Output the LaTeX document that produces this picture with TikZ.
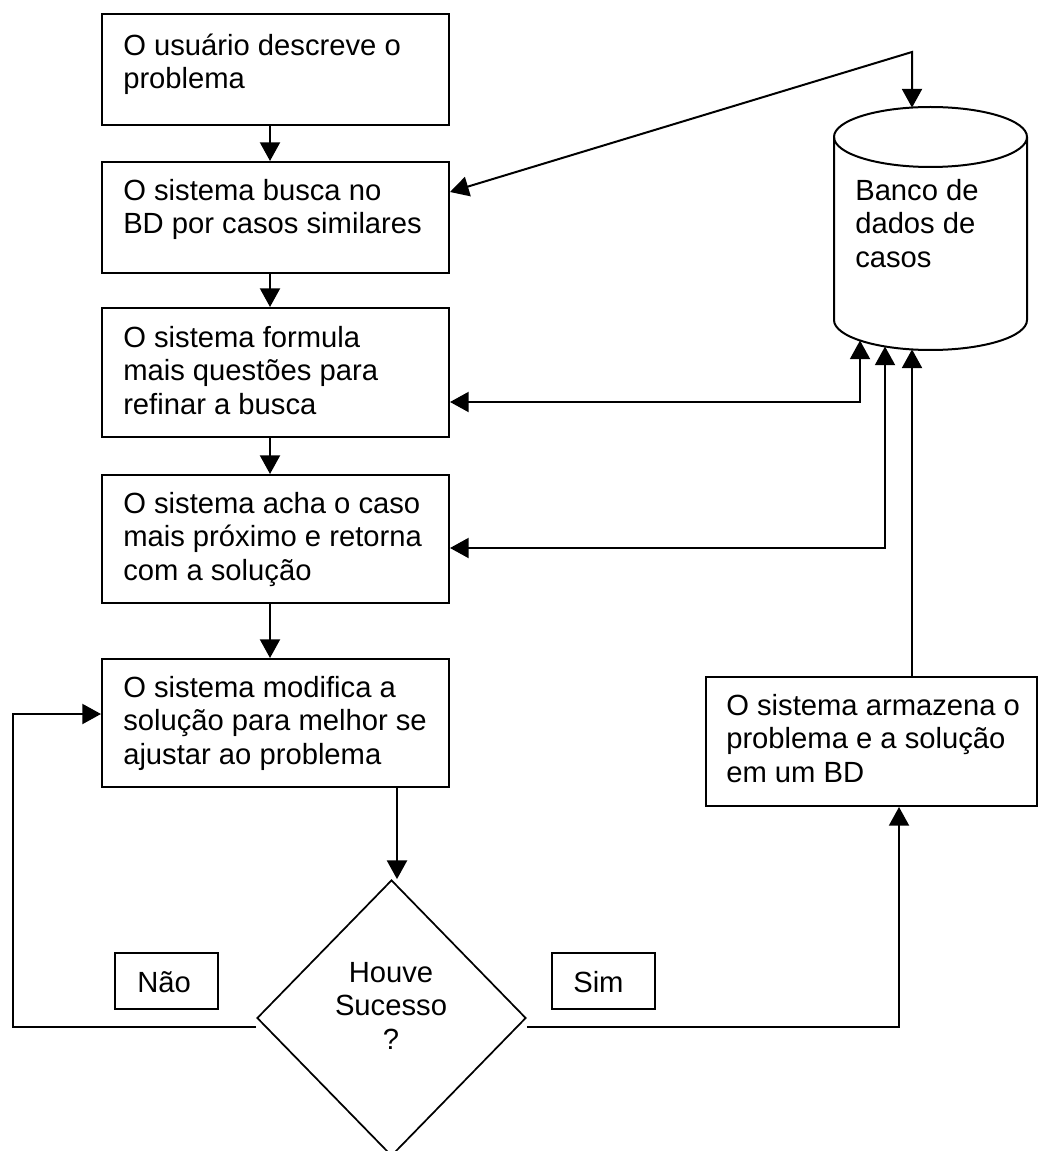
\documentclass[tikz,border=0pt]{standalone}
\usepackage{fontspec}
\setmainfont{Liberation Sans}
\usetikzlibrary{arrows.meta,shapes.geometric,fit}
% strut that fixes the height of the first text line
\newcommand{\firstln}{\rule{0pt}{18pt}}
\begin{document}
\begin{tikzpicture}[x=0.75pt,y=-0.75pt,
  every node/.style={font=\fontsize{21.9}{25.1}\selectfont},
  box/.style={draw, line width=1.5pt, inner sep=0pt, rectangle},
  txt/.style={inner sep=0pt, align=left, anchor=north west},
  ctxt/.style={inner sep=0pt, align=center, anchor=north},
  link/.style={line width=1.5pt, -{Triangle[length=14pt,width=15pt]}},
  both/.style={line width=1.5pt, {Triangle[length=14pt,width=15pt]}-{Triangle[length=14pt,width=15pt]}}
]
\useasboundingbox (0,0) rectangle (1039,1151);
\fill[white] (0,0) rectangle (1039,1151);

% process boxes
\node[box, fit={(102,14) (449,125)}]  (b1) {};
\node[box, fit={(102,162) (449,273)}] (b2) {};
\node[box, fit={(102,308) (449,437)}] (b3) {};
\node[box, fit={(102,475) (449,603)}] (b4) {};
\node[box, fit={(102,659) (449,787)}] (b5) {};
\node[box, fit={(706,677) (1037,806)}] (bs) {};

\node[txt] (t1) at (123,31)  {\firstln O usuário descreve o\\problema};
\node[txt] (t2) at (123,176) {\firstln O sistema busca no\\BD por casos similares};
\node[txt] (t3) at (123,323) {\firstln O sistema formula\\mais questões para\\refinar a busca};
\node[txt] (t4) at (123,489) {\firstln O sistema acha o caso\\mais próximo e retorna\\com a solução};
\node[txt] (t5) at (123,673) {\firstln O sistema modifica a\\solução para melhor se\\ajustar ao problema};
\node[txt] (ts) at (726,691) {\firstln O sistema armazena o\\problema e a solução\\em um BD};

% case database
\draw[line width=1.5pt] (930.5,137) ellipse [x radius=96.5, y radius=30];
\draw[line width=1.5pt] (834,137) -- (834,320)
  arc[start angle=180, end angle=0, x radius=96.5, y radius=30] -- (1027,137);
\node[inner sep=0pt, fit={(834,107) (1027,350)}] (db) {};
\node[txt] (tdb) at (855,176) {\firstln Banco de\\dados de\\casos};
\coordinate (dbtop) at (912,107.6);
\coordinate (dbin1) at (860,340.5);
\coordinate (dbin2) at (885,346.5);
\coordinate (dbin3) at (912,349.4);

% decision
\node[diamond, draw, line width=1.3pt, inner sep=0pt,
      minimum width=269*0.75pt, minimum height=276*0.75pt] (dec) at (391.5,1018) {};
\node[ctxt] (tdec) at (391,958) {\firstln Houve\\Sucesso\\?};

% answer labels
\node[box, fit={(115,953) (218,1009)}] (lno) {};
\node[txt] at (137,968) {\firstln Não};
\node[box, fit={(552,953) (655,1009)}] (lsim) {};
\node[txt] at (573,968) {\firstln Sim};

% helper coordinates for connector routes
\coordinate (spine) at (270,0);
\coordinate (decx) at (397,0);
\coordinate (lowline) at (0,1027);
\coordinate (loopx) at (13,0);
\coordinate (loopy) at (0,714);
\coordinate (storex) at (899,0);
\coordinate (bend) at (912,52);
\coordinate (y2) at (0,192);
\coordinate (y3) at (0,402);
\coordinate (y4) at (0,548);

% main flow
\draw[link] (b1.south -| spine) -- (b2.north -| spine);
\draw[link] (b2.south -| spine) -- (b3.north -| spine);
\draw[link] (b3.south -| spine) -- (b4.north -| spine);
\draw[link] (b4.south -| spine) -- (b5.north -| spine);
\draw[link] (b5.south -| decx) -- (dec.north -| decx);

% "Não" loop back and "Sim" branch
\draw[link] (dec.west |- lowline) -| (loopx |- loopy) -- (b5.west |- loopy);
\draw[link] (dec.east |- lowline) -| (bs.south -| storex);
\draw[link] (bs.north -| dbin3) -- (dbin3);

% exchanges with the database
\draw[both] (b2.east |- y2) -- (bend) -- (dbtop);
\draw[both] (b3.east |- y3) -| (dbin1);
\draw[both] (b4.east |- y4) -| (dbin2);
\end{tikzpicture}
\end{document}
